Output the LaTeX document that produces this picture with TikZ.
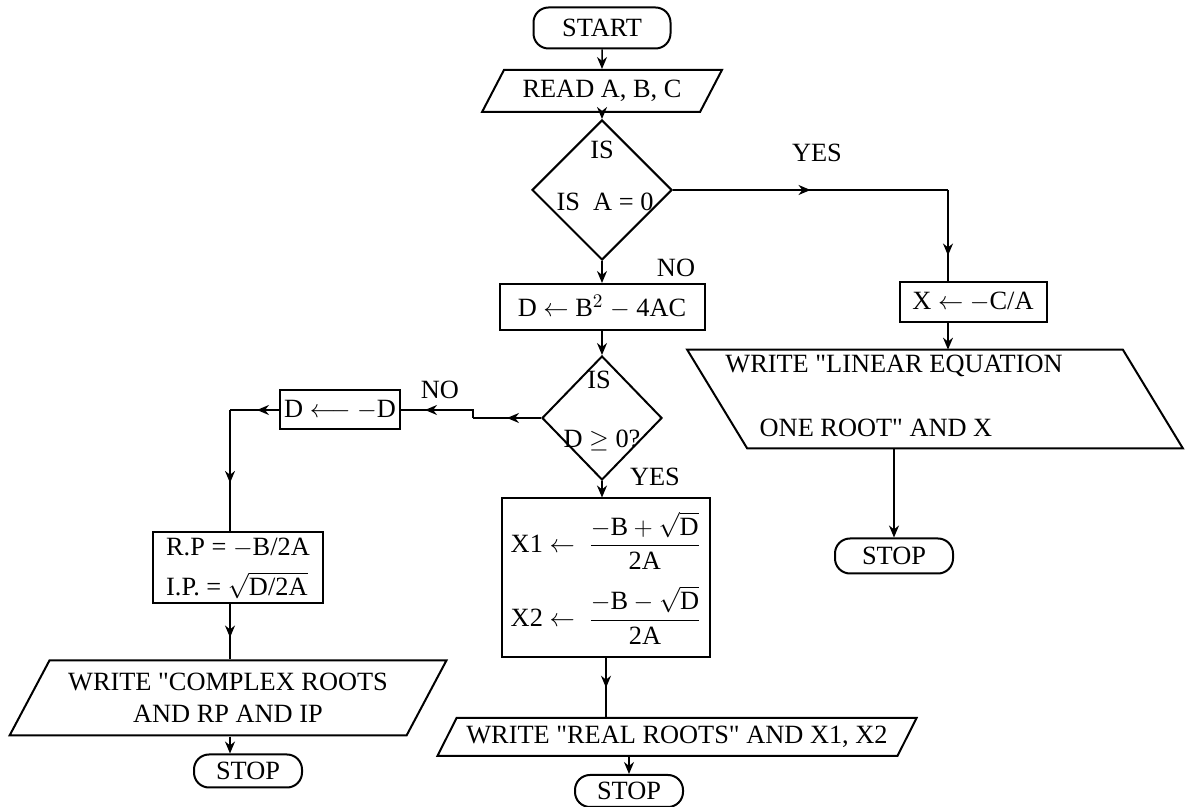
\documentclass[tikz,border=0pt]{standalone}
\usepackage{amsmath}
\usepackage{fontspec}
\setmainfont{Liberation Serif}
\usetikzlibrary{arrows.meta,shapes.geometric,decorations.markings}
\newcommand{\dq}{\textquotedbl}
\tikzset{
  font=\fontsize{15}{18}\selectfont,
  box/.style   ={draw, line width=0.4mm, inner sep=2pt},
  proc/.style  ={box, rectangle},
  term/.style  ={box, rounded corners=3mm, minimum width=21.6mm, minimum height=6.4mm},
  io/.style    ={box, trapezium, trapezium stretches=true,
                 trapezium left angle=57, trapezium right angle=123},
  dec/.style   ={box, diamond, inner sep=0pt},
  arr/.style   ={-{Stealth[length=2.4mm, width=2mm]}, line width=0.3mm},
  midarr/.style={line width=0.3mm, postaction={decorate},
                 decoration={markings, mark=at position #1 with {\arrow{Stealth[length=2.4mm, width=2mm]}}}},
  midarr/.default=0.5,
  lbl/.style   ={inner sep=1pt},
}

\begin{document}
\begin{tikzpicture}[x=0.2mm, y=-0.2mm]
  \useasboundingbox (0,0) rectangle (1196,807);

  % main column
  \node[term, minimum width=27.4mm, minimum height=8.2mm] (start) at (602,28) {START};
  \node[io, minimum width=48mm, minimum height=8.4mm] (read) at (602,91) {READ A, B, C};
  \node[dec, minimum width=28mm, minimum height=28mm] (isa) at (602,190) {};
  \node (isaq) at (602,150) {IS};
  \node (isat) at (605,202) {IS\enspace A = 0};
  \node[proc, minimum width=41mm, minimum height=9.2mm] (disc) at (602,307) {D $\leftarrow$ B$^2$ $-$ 4AC};
  \node[dec, minimum width=24mm, minimum height=24.8mm] (isd) at (602,418) {};
  \node (isdq) at (599,380) {IS};
  \node (isdt) at (602,440) {D $\geq$ 0?};
  \node[proc, minimum width=41.6mm, minimum height=31.8mm, align=left] (roots) at (606,578)
    {X1 $\leftarrow$ \;$\dfrac{-\text{B}+\sqrt{\text{D}}}{\text{2A}}$\\[3mm]
     X2 $\leftarrow$ \;$\dfrac{-\text{B} - \sqrt{\text{D}}}{\text{2A}}$};
  \node[io, minimum width=96mm, minimum height=7.6mm] (real) at (677,737) {WRITE \dq REAL ROOTS\dq{} AND X1, X2};
  \node[term] (stop2) at (629,791) {STOP};

  % D < 0 branch
  \node[proc, minimum width=24mm, minimum height=7.8mm] (negd) at (340,410) {D $\longleftarrow$ $-$D};
  \node[proc, minimum width=34mm, minimum height=14.2mm, align=left, inner sep=1pt] (rpip) at (238,568)
    {R.P = $-$B/2A\\[5pt]I.P. = $\sqrt{\text{D/2A}}$};
  \node[io, minimum width=87.4mm, minimum height=15mm, align=center] (cplx) at (228,698)
    {WRITE \dq COMPLEX ROOTS\\AND RP AND IP};
  \node[term, minimum height=6.6mm] (stop1) at (248,771) {STOP};

  % A = 0 branch; its output box leans the other way
  \node[proc, minimum width=29.4mm, minimum height=8mm] (xlin) at (973,302) {X $\leftarrow$ $-$C/A};
  \node[inner sep=0pt, minimum width=87mm, minimum height=19.6mm] (linw) at (935,399) {};
  \draw[box] ([xshift=-6mm]linw.north west) -- ([xshift=-6mm]linw.north east)
    -- ([xshift=6mm]linw.south east) -- ([xshift=6mm]linw.south west) -- cycle;
  \node (linw1) at (894,366) {WRITE \dq LINEAR EQUATION};
  \node (linw2) at (876,428) {ONE ROOT\dq{} AND X};
  \node[term, minimum width=23.6mm, minimum height=7mm] (stop3) at (894,556) {STOP};

  % branch labels
  \node[lbl] (yes1) at (817,153) {YES};
  \node[lbl] (no1)  at (676,268) {NO};
  \node[lbl] (no2)  at (440,390) {NO};
  \node[lbl] (yes2) at (655,477) {YES};

  \coordinate (yturn) at (948,190);
  \coordinate (jog)   at (473,418);
  \coordinate (lturn) at (230,410);

  \draw[arr] (start) -- (read);
  \draw[arr] (read) -- (isa);
  \draw[arr] (isa) -- (disc);
  \draw[arr] (disc) -- (isd);
  \draw[arr] (isd.south) -- (isd.south |- roots.north);
  \draw[midarr] (roots.south) -- (roots.south |- real.north);
  \draw[arr] (real.south -| stop2.north) -- (stop2.north);

  \draw[midarr] (isd.west) -- (jog);
  \draw[midarr=0.7] (jog) |- (negd.east);
  \draw[midarr=0.45] (negd.west) -- (lturn);
  \draw[midarr=0.6] (lturn) -- (lturn |- rpip.north);
  \draw[midarr=0.6] (lturn |- rpip.south) -- (lturn |- cplx.north);
  \draw[arr] (lturn |- cplx.south) -- (lturn |- stop1.north);

  \draw[midarr] (isa.east) -- (yturn);
  \draw[midarr=0.72] (yturn) -- (yturn |- xlin.north);
  \draw[arr] (yturn |- xlin.south) -- (yturn |- linw.north);
  \draw[arr] (stop3.north |- linw.south) -- (stop3.north);
\end{tikzpicture}
\end{document}
